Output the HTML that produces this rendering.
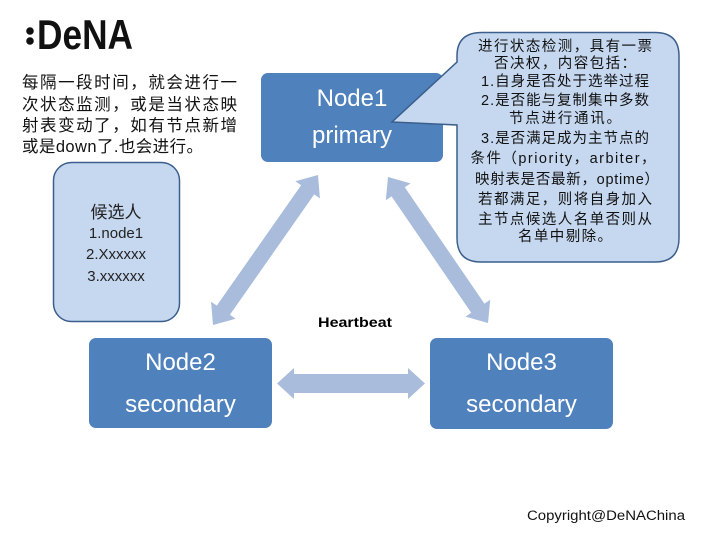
<!DOCTYPE html>
<html>
<head>
<meta charset="utf-8">
<style>
  html,body{margin:0;padding:0;background:#fff;}
  svg{display:block;}
  .cn{font-family:"Liberation Sans","Noto Sans CJK SC","WenQuanYi Zen Hei",sans-serif;}
</style>
</head>
<body>
<svg width="720" height="540" viewBox="0 0 720 540" xmlns="http://www.w3.org/2000/svg">
  <rect width="720" height="540" fill="#fff"/>

  <!-- Logo -->
  <circle cx="30" cy="31" r="3.8" fill="#111"/>
  <circle cx="30" cy="41" r="3.8" fill="#111"/>
  <text x="37" y="49" font-family="Liberation Sans, sans-serif" font-weight="bold" font-size="42" textLength="96" lengthAdjust="spacingAndGlyphs" fill="#111">DeNA</text>

  <!-- Top-left description -->
  <g class="cn" font-size="16.5" fill="#111">
    <text x="22" y="88" textLength="215" lengthAdjust="spacing">每隔一段时间，就会进行一</text>
    <text x="22" y="110" textLength="215" lengthAdjust="spacing">次状态监测，或是当状态映</text>
    <text x="22" y="131" textLength="215" lengthAdjust="spacing">射表变动了，如有节点新增</text>
    <text x="22" y="152" textLength="181" lengthAdjust="spacing">或是down了.也会进行。</text>
  </g>

  <!-- Arrows -->
  <g fill="#a9bcdc">
    <polygon transform="translate(265.5,250) rotate(-55)" points="-91.5,0 -73.5,-15 -73.5,-8 73.5,-8 73.5,-15 91.5,0 73.5,15 73.5,8 -73.5,8 -73.5,15"/>
    <polygon transform="translate(438,250) rotate(55.6)" points="-88.5,0 -70.5,-15 -70.5,-8 70.5,-8 70.5,-15 88.5,0 70.5,15 70.5,8 -70.5,8 -70.5,15"/>
    <polygon transform="translate(351,383.5)" points="-74,0 -57,-15.5 -57,-9.5 57,-9.5 57,-15.5 74,0 57,15.5 57,9.5 -57,9.5 -57,15.5"/>
  </g>

  <!-- Heartbeat label -->
  <text x="318" y="327" font-family="Liberation Sans, sans-serif" font-weight="bold" font-size="14" textLength="74" lengthAdjust="spacingAndGlyphs" fill="#000">Heartbeat</text>

  <!-- Candidate box -->
  <rect x="53.5" y="162.5" width="126" height="159" rx="18" ry="18" fill="#c6d8f0" stroke="#3b5e8c" stroke-width="1.5"/>
  <g class="cn" fill="#222" text-anchor="middle">
    <text x="116" y="218" font-size="17">候选人</text>
    <text x="116" y="238" font-size="15">1.node1</text>
    <text x="116" y="259" font-size="15">2.Xxxxxx</text>
    <text x="116" y="281" font-size="15">3.xxxxxx</text>
  </g>

  <!-- Nodes -->
  <g fill="#4f81bd">
    <rect x="261" y="73" width="182" height="89" rx="7" ry="7"/>
    <rect x="89" y="338" width="183" height="90" rx="7" ry="7"/>
    <rect x="430" y="338" width="183" height="91" rx="7" ry="7"/>
  </g>
  <g font-family="Liberation Sans, sans-serif" font-size="24" fill="#fff" text-anchor="middle">
    <text x="352" y="106">Node1</text>
    <text x="352" y="143">primary</text>
    <text x="180.5" y="370">Node2</text>
    <text x="180.5" y="412">secondary</text>
    <text x="521.5" y="370">Node3</text>
    <text x="521.5" y="412">secondary</text>
  </g>

  <!-- Callout -->
  <path d="M482,32.5 H655 Q679,32.5 679,56 V238 Q679,262 655,262 H481 Q457,262 457,238 V125 L392,122 L457,62 V56 Q457,32.5 482,32.5 Z" fill="#c6d8f0" stroke="#3b5e8c" stroke-width="1.5"/>
  <g class="cn" font-size="14.5" fill="#111" text-anchor="middle">
    <text x="565" y="51" textLength="174" lengthAdjust="spacing">进行状态检测，具有一票</text>
    <text x="565" y="68" textLength="142" lengthAdjust="spacing">否决权，内容包括：</text>
    <text x="565" y="86" textLength="168" lengthAdjust="spacing">1.自身是否处于选举过程</text>
    <text x="565" y="105" textLength="168" lengthAdjust="spacing">2.是否能与复制集中多数</text>
    <text x="565" y="123" textLength="112" lengthAdjust="spacing">节点进行通讯。</text>
    <text x="565" y="143" textLength="168" lengthAdjust="spacing">3.是否满足成为主节点的</text>
    <text x="563" y="163" textLength="185" lengthAdjust="spacing">条件（priority，arbiter，</text>
    <text x="567" y="184" textLength="184" lengthAdjust="spacing">映射表是否最新，optime）</text>
    <text x="565" y="204" textLength="174" lengthAdjust="spacing">若都满足，则将自身加入</text>
    <text x="565" y="224" textLength="174" lengthAdjust="spacing">主节点候选人名单否则从</text>
    <text x="565" y="241" textLength="94" lengthAdjust="spacing">名单中剔除。</text>
  </g>

  <!-- Copyright -->
  <text x="527" y="520" font-family="Liberation Sans, sans-serif" font-size="13.5" textLength="158" lengthAdjust="spacingAndGlyphs" fill="#111">Copyright@DeNAChina</text>
</svg>
</body>
</html>
